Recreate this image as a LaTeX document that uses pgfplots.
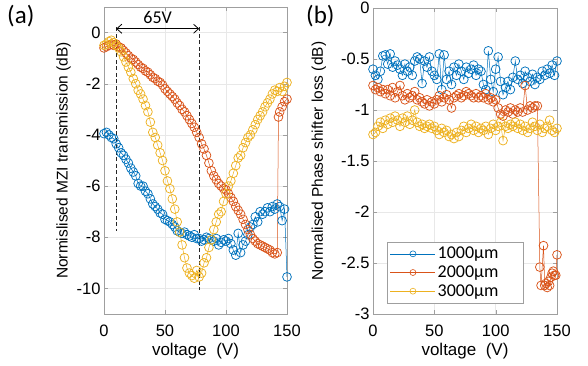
\documentclass[border=0pt]{standalone}
\usepackage{fontspec}
\setmainfont{Liberation Sans}
\newfontfamily\carl{Carlito}
\usepackage{pgfplots}
\pgfplotsset{compat=1.18}
\usetikzlibrary{arrows.meta}
\definecolor{mblue}{rgb}{0,0.447,0.741}
\definecolor{mred}{rgb}{0.85,0.325,0.098}
\definecolor{myel}{rgb}{0.929,0.694,0.125}
\pgfplotsset{
  mstyle/.style={scale only axis, axis line style={gray!75}, tick style={gray!75},
    tick align=inside, major tick length=4pt,
    grid=major, grid style={gray!18, line width=0.4pt},
    xmin=0, xmax=150, xtick={0,50,100,150},
    /pgf/number format/assume math mode=true,
    ticklabel style={font=\fontsize{16.5}{18}\selectfont},
    xticklabel style={yshift=-7pt},
    ylabel style={font=\fontsize{15.5}{17}\selectfont},
    xlabel style={font=\fontsize{17}{19}\selectfont, yshift=0pt},
    xlabel={voltage\ \ (V)},
    every axis plot/.append style={mark=o, mark size=4.4pt, line width=0.5pt, mark options={line width=0.75pt}},
  },
}
\begin{document}
\begin{tikzpicture}[x=1pt,y=1pt]
\useasboundingbox (0,0) rectangle (588,366);
\begin{axis}[mstyle, at={(104pt,52pt)}, anchor=south west, width=183pt, height=307pt,
  ymin=-11, ymax=1, ytick={-10,-8,-6,-4,-2,0},
  ylabel={Normislised MZI transmission (dB)},
  ylabel style={yshift=-1pt}]
\addplot[mblue] coordinates {(0,-3.95) (2,-3.9) (4,-4.0) (6,-4.1) (8,-4.15) (10,-4.35) (12,-4.5) (14,-4.7) (16,-4.8) (18,-4.95) (20,-5.1) (22,-5.3) (24,-5.45) (26,-5.6) (28,-5.9) (30,-6.0) (32,-6.0) (34,-6.2) (36,-6.3) (38,-6.5) (40,-6.7) (42,-6.8) (44,-6.9) (46,-7.05) (48,-7.1) (50,-7.3) (52,-7.35) (54,-7.4) (56,-7.5) (58,-7.6) (60,-7.75) (62,-7.8) (64,-7.85) (66,-7.8) (68,-7.9) (70,-7.95) (72,-8.0) (74,-7.9) (76,-8.05) (78,-8.05) (80,-8.15) (82,-8.1) (84,-8.0) (86,-8.05) (88,-8.1) (90,-8.15) (92,-8.05) (94,-8.3) (96,-8.2) (98,-8.1) (100,-8.15) (102,-8.05) (104,-8.25) (106,-8.5) (108,-8.7) (110,-7.85) (112,-8.6) (114,-8.3) (116,-8.15) (118,-7.9) (120,-7.6) (122,-7.5) (124,-7.2) (126,-7.4) (128,-7.0) (130,-7.1) (132,-7.0) (134,-6.85) (136,-7.0) (138,-6.8) (140,-6.9) (142,-6.7) (144,-6.8) (146,-7.35) (148,-6.9) (150,-9.55)};
\addplot[mred] coordinates {(0,-0.6) (2,-0.55) (4,-0.5) (6,-0.45) (8,-0.5) (10,-0.45) (12,-0.55) (14,-0.6) (16,-0.7) (18,-0.8) (20,-0.9) (22,-1.0) (24,-1.05) (26,-1.15) (28,-1.25) (30,-1.35) (32,-1.4) (34,-1.5) (36,-1.55) (38,-1.65) (40,-1.75) (42,-1.8) (44,-1.9) (46,-1.95) (48,-2.05) (50,-2.2) (52,-2.3) (54,-2.4) (56,-2.5) (58,-2.6) (60,-2.75) (62,-2.85) (64,-3.0) (66,-3.1) (68,-3.25) (70,-3.4) (72,-3.55) (74,-3.7) (76,-3.9) (78,-4.1) (80,-4.35) (82,-4.55) (84,-4.8) (86,-5.1) (88,-5.4) (90,-5.6) (92,-5.75) (94,-5.9) (96,-6.0) (98,-6.1) (100,-6.15) (102,-6.3) (104,-6.45) (106,-6.6) (108,-6.8) (110,-6.95) (112,-7.1) (114,-7.3) (116,-7.5) (118,-7.7) (120,-7.9) (122,-8.05) (124,-8.15) (126,-8.25) (128,-8.3) (130,-8.35) (132,-8.4) (134,-8.45) (136,-8.5) (138,-8.6) (140,-8.65) (142,-8.6) (143,-3.3) (144,-3.1) (146,-2.9) (148,-2.7) (150,-2.6)};
\addplot[myel] coordinates {(0,-0.5) (2,-0.45) (4,-0.35) (6,-0.3) (8,-0.4) (10,-0.5) (12,-0.6) (14,-0.75) (16,-0.95) (18,-1.15) (20,-1.35) (22,-1.55) (24,-1.8) (26,-2.0) (28,-2.25) (30,-2.4) (32,-2.6) (34,-2.85) (36,-3.1) (38,-3.5) (40,-3.9) (42,-4.1) (44,-4.4) (46,-4.7) (48,-5.0) (50,-5.4) (52,-5.8) (54,-6.1) (56,-6.5) (58,-6.9) (60,-7.4) (62,-7.8) (64,-8.3) (66,-8.8) (68,-9.2) (70,-9.4) (72,-9.5) (74,-9.6) (76,-9.3) (78,-9.55) (80,-9.4) (82,-9.0) (84,-8.8) (86,-8.4) (88,-8.1) (90,-7.7) (92,-7.4) (94,-7.1) (96,-7.0) (98,-6.6) (100,-6.3) (102,-6.0) (104,-5.8) (106,-5.5) (108,-5.2) (110,-4.9) (112,-4.8) (114,-4.5) (116,-4.3) (118,-4.1) (120,-4.0) (122,-3.8) (124,-3.6) (126,-3.4) (128,-3.25) (130,-3.1) (132,-2.9) (134,-2.75) (136,-2.6) (138,-2.4) (140,-2.25) (142,-2.3) (144,-2.15) (146,-2.3) (148,-2.1) (150,-1.95)};
\draw[dash pattern=on 4pt off 2.5pt, line width=1pt, black!85] (axis cs:10,0.2) -- (axis cs:10,-7.75);
\draw[dash pattern=on 4pt off 2.5pt, line width=1pt, black!85] (axis cs:78,0.2) -- (axis cs:78,-10.05);
\draw[{Straight Barb[length=5pt,width=9pt]}-{Straight Barb[length=5pt,width=9pt]}, line width=0.8pt] (axis cs:10,0.15) -- (axis cs:78,0.15);
\node[font=\carl\fontsize{18}{20}\selectfont] at (axis cs:44,0.58) {65V};
\end{axis}
\node[font=\carl\fontsize{25}{27}\selectfont, anchor=west, inner sep=0pt] at (7,350) {(a)};
\begin{axis}[mstyle, at={(373pt,52pt)}, anchor=south west, width=184pt, height=306pt,
  ymin=-3, ymax=0, ytick={-3,-2.5,-2,-1.5,-1,-0.5,0},
  yticklabel style={/pgf/number format/fixed},
  ylabel={Normalised Phase shifter loss (dB)},
  ylabel style={yshift=8pt},
  legend style={at={(0.076,0.036)}, anchor=south west, draw=gray!75, font=\carl\fontsize{18}{19}\selectfont, row sep=1.5pt, inner xsep=3pt, inner ysep=3pt},
  legend cell align=left,
  legend image code/.code={\draw[line width=0.5pt, mark repeat=2, mark phase=2, mark size=3pt, mark options={line width=0.6pt}] plot coordinates {(0pt,0pt) (22.5pt,0pt) (45pt,0pt)};}]
\addplot[mblue] coordinates {(0,-0.60) (2,-0.66) (4,-0.70) (6,-0.62) (8,-0.47) (10,-0.46) (12,-0.55) (14,-0.45) (16,-0.58) (18,-0.52) (20,-0.56) (22,-0.60) (24,-0.66) (26,-0.55) (28,-0.62) (30,-0.58) (32,-0.66) (34,-0.52) (36,-0.48) (38,-0.50) (40,-0.74) (42,-0.52) (44,-0.58) (46,-0.48) (48,-0.62) (50,-0.66) (52,-0.70) (54,-0.45) (56,-0.80) (58,-0.46) (60,-0.70) (62,-0.62) (64,-0.75) (66,-0.58) (68,-0.66) (70,-0.55) (72,-0.62) (74,-0.70) (76,-0.58) (78,-0.64) (80,-0.60) (82,-0.56) (84,-0.66) (86,-0.60) (88,-0.62) (90,-0.75) (92,-0.80) (94,-0.42) (96,-0.70) (98,-0.82) (100,-0.60) (102,-0.48) (104,-0.72) (106,-0.85) (108,-0.78) (110,-0.72) (112,-0.80) (114,-0.68) (116,-0.52) (118,-0.70) (120,-0.66) (122,-0.74) (124,-0.62) (126,-0.68) (128,-0.72) (130,-0.65) (132,-0.75) (134,-0.68) (136,-0.70) (138,-0.62) (140,-0.66) (142,-0.60) (144,-0.64) (146,-0.56) (148,-0.66) (150,-0.52)};
\addlegendentry{1000µm\hspace*{20pt}}
\addplot[mred] coordinates {(0,-0.76) (2,-0.80) (4,-0.78) (6,-0.82) (8,-0.80) (10,-0.84) (12,-0.80) (14,-0.86) (16,-0.78) (18,-0.88) (20,-0.82) (22,-0.76) (24,-0.86) (26,-0.90) (28,-0.84) (30,-0.88) (32,-0.86) (34,-0.82) (36,-0.90) (38,-0.88) (40,-0.92) (42,-0.94) (44,-0.90) (46,-0.96) (48,-0.92) (50,-0.94) (52,-0.90) (54,-0.86) (56,-0.92) (58,-0.88) (60,-0.85) (62,-0.90) (64,-0.98) (66,-0.88) (68,-0.86) (70,-0.84) (72,-0.88) (74,-0.86) (76,-0.82) (78,-0.84) (80,-0.86) (82,-0.88) (84,-0.84) (86,-0.88) (88,-0.86) (90,-0.88) (92,-0.84) (94,-0.90) (96,-0.88) (98,-0.92) (100,-0.90) (102,-0.98) (104,-1.04) (106,-1.06) (108,-1.00) (110,-1.02) (112,-0.98) (114,-1.04) (116,-1.00) (118,-1.02) (120,-0.98) (122,-1.02) (124,-0.76) (126,-1.00) (128,-0.96) (130,-0.98) (132,-0.96) (134,-0.96) (136,-2.54) (137,-2.72) (139,-2.33) (140,-2.72) (141,-2.70) (142,-2.74) (143,-2.68) (144,-2.72) (145,-2.64) (146,-2.60) (147,-2.58) (148,-2.62) (149,-2.62) (150,-2.42)};
\addlegendentry{2000µm\hspace*{20pt}}
\addplot[myel] coordinates {(0,-1.24) (2,-1.22) (4,-1.16) (6,-1.12) (8,-1.18) (10,-1.10) (12,-1.14) (14,-1.08) (16,-1.12) (18,-1.06) (20,-1.10) (22,-1.16) (24,-1.08) (26,-1.12) (28,-1.06) (30,-1.14) (32,-1.10) (34,-1.00) (36,-1.12) (38,-1.16) (40,-1.14) (42,-1.18) (44,-1.16) (46,-1.14) (48,-1.18) (50,-1.16) (52,-1.20) (54,-1.24) (56,-1.18) (58,-1.22) (60,-1.20) (62,-1.26) (64,-1.24) (66,-1.28) (68,-1.22) (70,-1.26) (72,-1.20) (74,-1.16) (76,-1.22) (78,-1.18) (80,-1.14) (82,-1.20) (84,-1.16) (86,-1.22) (88,-1.18) (90,-1.20) (92,-1.16) (94,-1.24) (96,-1.18) (98,-1.14) (100,-1.20) (102,-1.16) (104,-1.12) (106,-1.30) (108,-1.16) (110,-1.18) (112,-1.14) (114,-1.16) (116,-1.12) (118,-1.18) (120,-1.14) (122,-1.20) (124,-1.16) (126,-1.22) (128,-1.18) (130,-1.12) (132,-1.16) (134,-1.20) (136,-1.14) (138,-1.22) (140,-1.18) (142,-1.16) (144,-1.10) (146,-1.20) (148,-1.22) (150,-1.18)};
\addlegendentry{3000µm\hspace*{20pt}}
\end{axis}
\node[font=\carl\fontsize{25}{27}\selectfont, anchor=west, inner sep=0pt] at (306,350) {(b)};
\end{tikzpicture}
\end{document}
